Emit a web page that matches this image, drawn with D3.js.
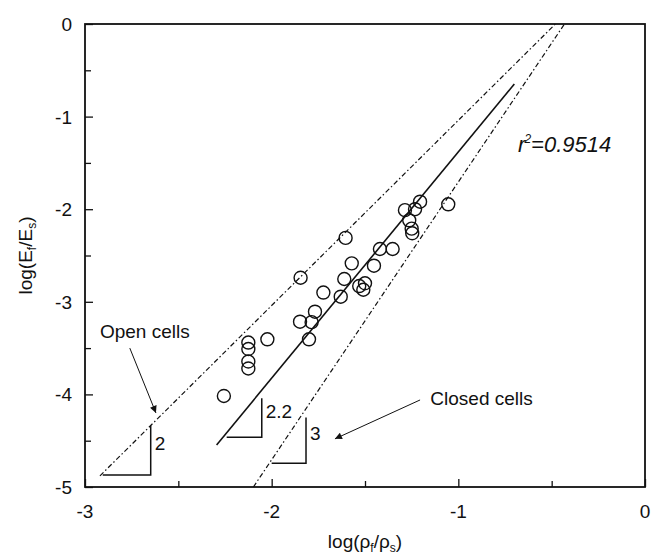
<!DOCTYPE html>
<html>
<head>
<meta charset="utf-8">
<script src="https://cdn.jsdelivr.net/npm/d3@7"></script>
<style>
  body { margin: 0; background: #fff; }
  text { font-family: "Liberation Sans", Arial, sans-serif; fill: #111; }
</style>
</head>
<body>
<svg id="chart" width="652" height="554"></svg>
<script>
// measured points, log(rho_f/rho_s) vs log(E_f/E_s)
const logRho = [-2.256, -2.125, -2.125, -2.125, -2.125, -2.023, -1.845, -1.848, -1.786, -1.800,
  -1.768, -1.723, -1.630, -1.611, -1.604, -1.571, -1.531, -1.509, -1.500, -1.452,
  -1.420, -1.352, -1.286, -1.263, -1.250, -1.247, -1.232, -1.205, -1.054];
const logE = [-4.017, -3.44, -3.51, -3.645, -3.72, -3.405, -2.74, -3.215, -3.22, -3.405,
  -3.107, -2.90, -2.945, -2.754, -2.31, -2.585, -2.83, -2.87, -2.80, -2.61,
  -2.43, -2.43, -2.01, -2.12, -2.21, -2.26, -2.00, -1.919, -1.947];

// reference lines (slope, intercept, x extent)
const openLine = { slope: 2, icpt: 0.96, x: [-2.92, -0.48] };
const closedLine = { slope: 3, icpt: 1.294, x: [-2.098, -0.431] };
const fitLine = { slope: 2.444, icpt: 1.063, x: [-2.295, -0.70] };

// slope triangles: corner points and label
const triangles = [
  { pts: [[-2.905, -4.87], [-2.648, -4.87], [-2.648, -4.336]], label: "2" },
  { pts: [[-2.241, -4.463], [-2.053, -4.463], [-2.053, -4.042]], label: "2.2" },
  { pts: [[-2.0, -4.744], [-1.816, -4.744], [-1.816, -4.25]], label: "3" }
];

const xTicks = [-3, -2.5, -2, -1.5, -1, -0.5, 0];
const yTicks = [-5, -4.5, -4, -3.5, -3, -2.5, -2, -1.5, -1, -0.5, 0];

const svg = d3.select("#chart");
const x = d3.scaleLinear().domain([-3, 0]).range([85, 645]);
const y = d3.scaleLinear().domain([-5, 0]).range([487, 24]);

svg.append("rect").attr("width", 652).attr("height", 554).attr("fill", "#fff");

const defs = svg.append("defs");
defs.append("marker")
  .attr("id", "arrow")
  .attr("viewBox", "0 0 10 10")
  .attr("refX", 10).attr("refY", 5)
  .attr("markerWidth", 10).attr("markerHeight", 7)
  .attr("markerUnits", "userSpaceOnUse")
  .attr("orient", "auto")
  .append("path")
  .attr("d", "M0,0 L10,5 L0,10 z")
  .attr("fill", "#111");

// axes with inward ticks
const isMajor = d => Math.abs(d - Math.round(d)) < 1e-9;
const xAxis = svg.append("g").attr("transform", `translate(0,${y(-5)})`)
  .call(d3.axisBottom(x).tickValues(xTicks).tickSize(0).tickFormat(""));
xAxis.selectAll(".tick line").attr("y2", d => isMajor(d) ? -8 : -6);
const yAxis = svg.append("g").attr("transform", `translate(${x(-3)},0)`)
  .call(d3.axisLeft(y).tickValues(yTicks).tickSize(0).tickFormat(""));
yAxis.selectAll(".tick line").attr("x2", d => isMajor(d) ? 8 : 6);
svg.selectAll(".domain").remove();
svg.selectAll(".tick line").attr("stroke", "#111").attr("stroke-width", 1.3);

svg.append("rect")
  .attr("x", x(-3)).attr("y", y(0))
  .attr("width", x(0) - x(-3)).attr("height", y(-5) - y(0))
  .attr("fill", "none").attr("stroke", "#111").attr("stroke-width", 1.8);

// tick labels
svg.append("g").selectAll("text").data(xTicks.filter(isMajor)).join("text")
  .attr("x", d => x(d)).attr("y", y(-5) + 31)
  .attr("text-anchor", "middle").attr("font-size", 19)
  .text(d => d3.format("d")(d).replace("−", "-"));
svg.append("g").selectAll("text").data(yTicks.filter(isMajor)).join("text")
  .attr("x", x(-3) - 13).attr("y", d => y(d) + 7)
  .attr("text-anchor", "end").attr("font-size", 19)
  .text(d => d3.format("d")(d).replace("−", "-"));

// axis titles
const xt = svg.append("text").attr("x", (x(-3) + x(0)) / 2).attr("y", 548)
  .attr("text-anchor", "middle").attr("font-size", 19);
xt.append("tspan").text("log(ρ");
xt.append("tspan").attr("font-size", 12).attr("dy", 4).text("f");
xt.append("tspan").attr("dy", -4).text("/ρ");
xt.append("tspan").attr("font-size", 12).attr("dy", 4).text("s");
xt.append("tspan").attr("dy", -4).text(")");

const yt = svg.append("text")
  .attr("transform", `translate(32,${(y(0) + y(-5)) / 2}) rotate(-90)`)
  .attr("text-anchor", "middle").attr("font-size", 19);
yt.append("tspan").text("log(E");
yt.append("tspan").attr("font-size", 12).attr("dy", 4).text("f");
yt.append("tspan").attr("dy", -4).text("/E");
yt.append("tspan").attr("font-size", 12).attr("dy", 4).text("s");
yt.append("tspan").attr("dy", -4).text(")");

// lines
const line = d3.line().x(d => x(d[0])).y(d => y(d[1]));
const pts = l => l.x.map(v => [v, l.slope * v + l.icpt]);
[openLine, closedLine].forEach(l => {
  svg.append("path").attr("d", line(pts(l)))
    .attr("fill", "none").attr("stroke", "#111").attr("stroke-width", 1.2)
    .attr("stroke-dasharray", "5,2.5,1.5,2.5");
});
svg.append("path").attr("d", line(pts(fitLine)))
  .attr("fill", "none").attr("stroke", "#111").attr("stroke-width", 1.6);

// slope triangles
triangles.forEach(t => {
  svg.append("path").attr("d", line(t.pts))
    .attr("fill", "none").attr("stroke", "#111").attr("stroke-width", 1.5);
  svg.append("text").attr("x", x(t.pts[1][0]) + 4)
    .attr("y", (y(t.pts[1][1]) + y(t.pts[2][1])) / 2)
    .attr("font-size", 19).text(t.label);
});

// points
svg.append("g").selectAll("circle").data(logRho).join("circle")
  .attr("cx", d => x(d)).attr("cy", (d, i) => y(logE[i]))
  .attr("r", 6.5).attr("fill", "none").attr("stroke", "#111").attr("stroke-width", 1.4);

// annotations
svg.append("text").attr("x", x(-2.92)).attr("y", y(-3.39))
  .attr("font-size", 19).text("Open cells");
svg.append("path").attr("d", line([[-2.76, -3.5], [-2.62, -4.2]]))
  .attr("stroke", "#111").attr("stroke-width", 1).attr("marker-end", "url(#arrow)");
svg.append("text").attr("x", x(-1.15)).attr("y", y(-4.11))
  .attr("font-size", 19).text("Closed cells");
svg.append("path").attr("d", line([[-1.205, -4.06], [-1.661, -4.48]]))
  .attr("stroke", "#111").attr("stroke-width", 1).attr("marker-end", "url(#arrow)");

const r2 = svg.append("text").attr("x", x(-0.68)).attr("y", y(-1.38))
  .attr("font-size", 22).attr("font-style", "italic");
r2.append("tspan").text("r");
r2.append("tspan").attr("font-size", 12).attr("dy", -9).attr("dx", -1).text("2");
r2.append("tspan").attr("dy", 9).text("=0.9514");
</script>
</body>
</html>
